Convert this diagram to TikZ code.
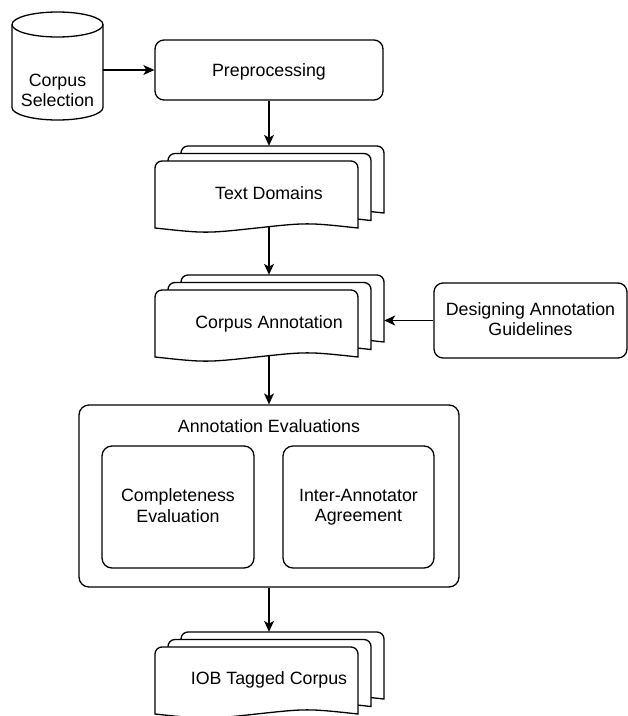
\documentclass[tikz,border=0pt]{standalone}
\usepackage{fontspec}
\setmainfont{Liberation Sans}
\usetikzlibrary{arrows.meta}
\newcommand\mystrut{\rule[-3pt]{0pt}{18.7pt}}
\newcommand\docsheet[2]{%
  \filldraw[sheet] (#1,-#2-67) -- (#1,-#2-7) arc[start angle=180,end angle=90,radius=7pt]
    -- (#1+196,-#2) arc[start angle=90,end angle=0,radius=7pt]
    -- (#1+203,-#2-67)
    .. controls (#1+152.25,-#2-61.5) .. (#1+101.5,-#2-67)
    .. controls (#1+50.75,-#2-72.5) .. cycle;}
\begin{document}
\begin{tikzpicture}[x=1pt,y=1pt,
  every node/.style={font=\fontsize{17.8}{20.5}\selectfont, text=black},
  sheet/.style={draw=black, fill=white, line width=1.3pt},
  box/.style={draw=black, rounded corners=9pt, line width=1.3pt, align=center, inner sep=0pt,
    execute at begin node=\mystrut, execute at end node=\mystrut},
  hole/.style={inner sep=0pt, draw=none},
  lbl/.style={align=center, inner sep=0pt, execute at begin node=\mystrut, execute at end node=\mystrut},
  arr/.style={line width=1.3pt, -{Stealth[length=11pt,width=10pt,inset=3pt]}}]
\useasboundingbox (0,0) rectangle (628,-716);

% Corpus Selection cylinder
\draw[line width=1.3pt, fill=white] (12,-24.5) -- (12,-107.5)
  arc[start angle=180,end angle=360,x radius=45.5pt,y radius=12.5pt] -- (103,-24.5);
\draw[line width=1.3pt] (57.5,-24.5) ellipse [x radius=45.5pt, y radius=12.5pt];
\node[hole, minimum width=91pt, minimum height=108pt] (cs) at (57.5,-66) {};
\node[lbl] (cst) at (57.5,-92) {Corpus\\Selection};

% Preprocessing
\node[box, minimum width=228pt, minimum height=60pt] (pre) at (269,-70) {Preprocessing};

% Text Domains stack
\docsheet{181}{146}\docsheet{168}{153.5}\docsheet{155}{161}
\node[hole, minimum width=229pt, minimum height=81pt] (td) at (269.5,-186.5) {};
\node[lbl] (tdt) at (269,-193) {Text Domains};

% Corpus Annotation stack
\docsheet{181}{275}\docsheet{168}{282.5}\docsheet{155}{290}
\node[hole, minimum width=229pt, minimum height=81pt] (ca) at (269.5,-315.5) {};
\node[lbl] (cat) at (269,-322) {Corpus Annotation};

% Designing Annotation Guidelines
\node[box, minimum width=193pt, minimum height=75pt] (dag) at (530.5,-320.5) {Designing Annotation\\Guidelines};

% Annotation Evaluations
\node[box, rounded corners=10pt, minimum width=380pt, minimum height=182pt] (ae) at (269,-496) {};
\node[lbl] (aet) at (269,-426) {Annotation Evaluations};
\node[box, rounded corners=10pt, minimum width=152pt, minimum height=122pt] (ce) at (178,-507) {Completeness\\Evaluation};
\node[box, rounded corners=10pt, minimum width=151pt, minimum height=122pt] (iaa) at (358.5,-507) {Inter-Annotator\\Agreement};

% IOB Tagged Corpus stack
\docsheet{181}{632}\docsheet{168}{639.5}\docsheet{155}{647}
\node[hole, minimum width=229pt, minimum height=81pt] (iob) at (269.5,-672.5) {};
\node[lbl] (iobt) at (269,-678) {IOB Tagged Corpus};

% connectors
\draw[arr] (cs.east |- pre.west) -- (pre.west);
\draw[arr] (pre.south) -- (pre.south |- td.north);
\draw[arr] (td.south -| pre.south) -- (pre.south |- ca.north);
\draw[arr] (dag.west) -- (ca.east |- dag.west);
\draw[arr] (ca.south -| ae.north) -- (ae.north);
\draw[arr] (ae.south) -- (ae.south |- iob.north);
\end{tikzpicture}
\end{document}
